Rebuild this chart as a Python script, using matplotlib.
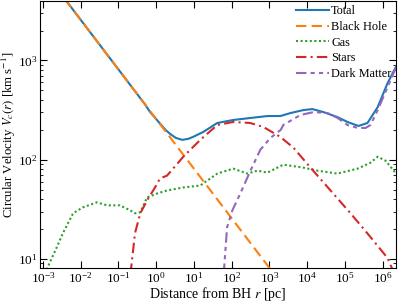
import numpy as np
import matplotlib
matplotlib.use("Agg")
import matplotlib.pyplot as plt

# ================= DATA (log10 r [pc], log10 V [km/s]) =================
LOG_R_TOTAL = [-3.10, -2.00, -1.00, -0.50, -0.30, -0.16, 0.00, 0.11, 0.25, 0.37,
               0.52, 0.69, 0.85, 0.98, 1.25, 1.62, 2.04, 2.49, 2.95, 3.29,
               3.56, 3.90, 4.14, 4.43, 4.80, 5.07, 5.36, 5.60, 5.87, 6.13, 6.40]
LOG_V_TOTAL = [3.96, 3.41, 2.91, 2.66, 2.56, 2.48, 2.41, 2.36, 2.30, 2.26,
               2.22, 2.20, 2.21, 2.23, 2.28, 2.37, 2.40, 2.42, 2.44, 2.44,
               2.47, 2.50, 2.51, 2.48, 2.43, 2.38, 2.34, 2.37, 2.53, 2.77, 2.97]

LOG_R_BH = [-3.10, -2.00, -1.00, 0.00, 1.00, 2.00, 3.00, 3.20]
LOG_V_BH = [3.96, 3.41, 2.91, 2.41, 1.91, 1.41, 0.91, 0.81]

LOG_R_GAS = [-2.95, -2.81, -2.63, -2.47, -2.20, -1.94, -1.57, -1.30, -0.96, -0.69,
             -0.56, -0.42, -0.24, 0.03, 0.29, 0.72, 1.17, 1.62, 2.04, 2.42,
             2.68, 2.95, 3.37, 3.90, 4.27, 4.80, 5.34, 5.68, 5.87, 6.08, 6.40]
LOG_V_GAS = [0.85, 0.97, 1.12, 1.26, 1.46, 1.52, 1.57, 1.54, 1.54, 1.49,
             1.46, 1.47, 1.62, 1.66, 1.69, 1.72, 1.74, 1.86, 1.91, 1.86,
             1.89, 1.87, 1.95, 1.92, 1.89, 1.86, 1.91, 1.97, 2.03, 1.99, 1.84]

LOG_R_STARS = [-0.68, -0.56, -0.42, -0.24, -0.03, 0.10, 0.29, 0.72, 1.17, 1.62,
               2.04, 2.49, 2.84, 3.29, 3.64, 4.09, 4.62, 5.15, 5.68, 6.13, 6.30]
LOG_V_STARS = [0.85, 1.26, 1.46, 1.59, 1.72, 1.81, 1.84, 2.03, 2.20, 2.35,
               2.38, 2.37, 2.33, 2.23, 2.12, 1.92, 1.69, 1.46, 1.22, 1.01, 0.86]

LOG_R_DM = [1.79, 1.88, 2.02, 2.23, 2.50, 2.76, 3.03, 3.30, 3.37, 3.82,
            4.17, 4.54, 4.81, 5.07, 5.34, 5.55, 5.68, 5.87, 6.13, 6.40]
LOG_V_DM = [0.85, 1.32, 1.49, 1.66, 1.89, 2.10, 2.22, 2.30, 2.35, 2.45,
            2.48, 2.47, 2.42, 2.35, 2.32, 2.32, 2.35, 2.50, 2.73, 2.97]

SERIES = [
    ("Total", LOG_R_TOTAL, LOG_V_TOTAL, "C0", "-"),
    ("Black Hole", LOG_R_BH, LOG_V_BH, "C1", (0, (5, 2.5))),
    ("Gas", LOG_R_GAS, LOG_V_GAS, "C2", (0, (1, 1.2))),
    ("Stars", LOG_R_STARS, LOG_V_STARS, "C3", (0, (5, 2, 1, 2))),
    ("Dark Matter", LOG_R_DM, LOG_V_DM, "C4", (0, (5, 2, 2, 2, 2, 2))),
]
# =======================================================================

plt.rcParams["font.family"] = ["Liberation Serif", "DejaVu Serif"]
plt.rcParams["mathtext.fontset"] = "stix"
plt.rcParams["font.size"] = 10


def main():
    fig = plt.figure(figsize=(3.99, 3.02), dpi=100)
    ax = fig.add_axes([0.100, 0.113, 0.892, 0.884])

    for label, lr, lv, color, ls in SERIES:
        ax.plot(10 ** np.array(lr), 10 ** np.array(lv), color=color,
                linestyle=ls, linewidth=1.5, label=label)

    ax.set_xscale("log")
    ax.set_yscale("log")
    ax.set_xlim(10 ** -3.08, 10 ** 6.35)
    ax.set_ylim(10 ** 0.91, 10 ** 3.60)

    ax.set_xticks([10.0 ** k for k in range(-3, 7)])
    ax.tick_params(which="both", direction="in", top=True, right=True,
                   labelsize=9.5, pad=2)
    ax.tick_params(which="major", length=5)
    ax.tick_params(which="minor", length=2.5)

    ax.set_xlabel(r"Distance from BH $r$ [pc]", fontsize=10, labelpad=0)
    ax.set_ylabel(r"Circular Velocity $V_c(r)$ [km s$^{-1}$]", fontsize=9.2)
    ax.yaxis.set_label_coords(-0.062, 0.5)

    ax.legend(loc="upper right", frameon=False, fontsize=8.8,
              handlelength=2.7, handletextpad=0.2, labelspacing=0.3,
              borderaxespad=0.15, borderpad=0.2)

    fig.savefig("out.png", dpi=100)
    plt.close(fig)


if __name__ == "__main__":
    main()
